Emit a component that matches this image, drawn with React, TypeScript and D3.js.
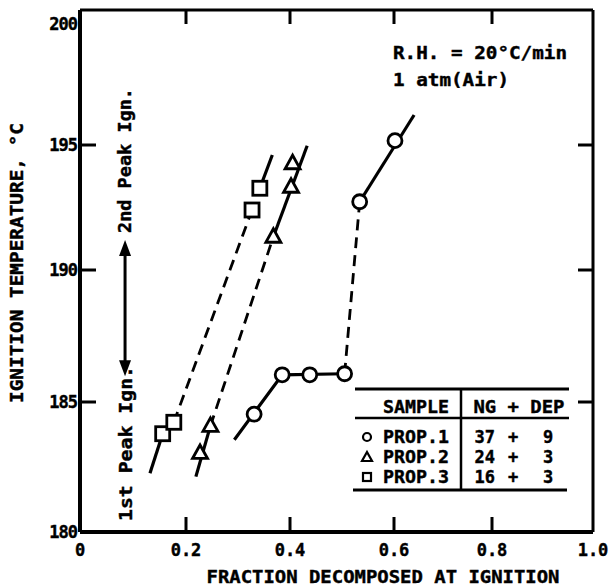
import * as d3 from 'd3';
import React from 'react';

// tick values
const xTicks = [0, 0.2, 0.4, 0.6, 0.8, 1.0];
const yTicks = [180, 185, 190, 195, 200];

// PROP.1 (circles)
const prop1Points: [number, number][] = [[0.331, 184.53], [0.385, 186.03], [0.438, 186.03], [0.505, 186.07], [0.534, 192.73], [0.602, 195.18]];
const prop1Low: [number, number][] = [[0.293, 183.55], [0.385, 186.03], [0.505, 186.07]];
const prop1High: [number, number][] = [[0.534, 192.73], [0.641, 196.24]];
const prop1Jump: [number, number][] = [[0.505, 186.07], [0.534, 192.73]];

// PROP.2 (triangles)
const prop2Points: [number, number][] = [[0.227, 183.04], [0.247, 184.08], [0.368, 191.33], [0.402, 193.33], [0.405, 194.27]];
const prop2Low: [number, number][] = [[0.219, 182.13], [0.247, 184.08]];
const prop2High: [number, number][] = [[0.368, 191.33], [0.433, 194.97]];
const prop2Jump: [number, number][] = [[0.247, 184.08], [0.368, 191.33]];

// PROP.3 (squares)
const prop3Points: [number, number][] = [[0.156, 183.78], [0.177, 184.22], [0.327, 192.4], [0.342, 193.27]];
const prop3Low: [number, number][] = [[0.132, 182.26], [0.156, 183.78]];
const prop3High: [number, number][] = [[0.342, 193.27], [0.366, 194.6]];
const prop3Jump: [number, number][] = [[0.177, 184.22], [0.327, 192.4]];

// legend table
const samples = ['PROP.1', 'PROP.2', 'PROP.3'];
const ngValues = [37, 24, 16];
const depValues = [9, 3, 3];

const FONT = '"DejaVu Sans Mono", "Liberation Mono", monospace';

export default function App() {
  const width = 611;
  const height = 588;

  // scanned axis is slightly uneven, so map each tick
  const x = d3.scaleLinear().domain(xTicks).range([80, 186, 290, 394, 492, 593]);
  const y = d3.scaleLinear().domain(yTicks).range([532, 402, 270, 145, 24]);
  const top = 10;

  const line = d3.line<[number, number]>().x(d => x(d[0])).y(d => y(d[1]));

  const circle = (p: [number, number], i: number) => (
    <circle key={'c' + i} cx={x(p[0])} cy={y(p[1])} r={7} fill="white" stroke="black" strokeWidth={2.8} />
  );
  const tri = (p: [number, number], i: number) => {
    const cx = x(p[0]), cy = y(p[1]);
    return (
      <path key={'t' + i} d={`M${cx},${cy - 8} L${cx + 7.5},${cy + 5.5} L${cx - 7.5},${cy + 5.5} Z`}
        fill="white" stroke="black" strokeWidth={2.8} strokeLinejoin="miter" />
    );
  };
  const sq = (p: [number, number], i: number) => (
    <rect key={'s' + i} x={x(p[0]) - 7} y={y(p[1]) - 7} width={14} height={14} fill="white" stroke="black" strokeWidth={2.8} />
  );

  const solid = { fill: 'none', stroke: 'black', strokeWidth: 3.2 };
  const dashed = { fill: 'none', stroke: 'black', strokeWidth: 2.8, strokeDasharray: '11 7' };
  const txt = { fontFamily: FONT, fontWeight: 'bold' as const, fontSize: 17, fill: 'black', stroke: 'black', strokeWidth: 0.4 };

  // table layout
  const tL = 355, tR = 569, tDiv = 461;
  const rowY = [437, 457, 477];

  const arrowX = x(0.085);
  const arrowTop = y(191.2);
  const arrowBot = y(185.98);

  return (
    <svg width={width} height={height} style={{ position: 'absolute', left: 0, top: 0, background: 'white' }}>
      {/* frame */}
      <line x1={x(0)} x2={x(0)} y1={top} y2={y(180)} stroke="black" strokeWidth={4} />
      <line x1={x(0)} x2={x(1)} y1={y(180)} y2={y(180)} stroke="black" strokeWidth={4} />
      <line x1={x(1)} x2={x(1)} y1={top} y2={y(180)} stroke="black" strokeWidth={3} />
      <line x1={x(0)} x2={x(1)} y1={top} y2={top} stroke="black" strokeWidth={3} />

      {/* ticks */}
      {xTicks.slice(1, -1).map(t => (
        <g key={'xt' + t}>
          <line x1={x(t)} x2={x(t)} y1={y(180)} y2={y(180) - 15} stroke="black" strokeWidth={3} />
          <line x1={x(t)} x2={x(t)} y1={top} y2={top + 14} stroke="black" strokeWidth={3} />
        </g>
      ))}
      {yTicks.slice(1, -1).map(t => (
        <g key={'yt' + t}>
          <line x1={x(0)} x2={x(0) + 16} y1={y(t)} y2={y(t)} stroke="black" strokeWidth={3} />
          <line x1={x(1)} x2={x(1) - 15} y1={y(t)} y2={y(t)} stroke="black" strokeWidth={3} />
        </g>
      ))}

      {/* tick labels */}
      {xTicks.map(t => (
        <text key={'xl' + t} x={x(t)} y={556} textAnchor="middle" {...txt}>
          {t === 0 ? '0' : d3.format('.1f')(t)}
        </text>
      ))}
      {yTicks.map(t => (
        <text key={'yl' + t} x={77} y={y(t) + 6} textAnchor="end" {...txt} letterSpacing={-1}>
          {t}
        </text>
      ))}

      {/* axis titles */}
      <text x={383} y={583} textAnchor="middle" {...txt} textLength={353} lengthAdjust="spacingAndGlyphs">
        FRACTION DECOMPOSED AT IGNITION
      </text>
      <text transform="translate(23,263) rotate(-90)" textAnchor="middle" {...txt} textLength={280} lengthAdjust="spacingAndGlyphs">
        IGNITION TEMPERATURE, °C
      </text>

      {/* conditions */}
      <text x={393} y={59} {...txt} textLength={174} lengthAdjust="spacingAndGlyphs">R.H. = 20°C/min</text>
      <text x={393} y={86} {...txt} textLength={116} lengthAdjust="spacingAndGlyphs">1 atm(Air)</text>

      {/* peak arrows and labels */}
      <line x1={arrowX} x2={arrowX} y1={arrowTop + 12} y2={arrowBot - 12} stroke="black" strokeWidth={3} />
      <path d={`M${arrowX},${arrowTop} L${arrowX + 6},${arrowTop + 16} L${arrowX - 6},${arrowTop + 16} Z`} fill="black" />
      <path d={`M${arrowX},${arrowBot} L${arrowX + 6},${arrowBot - 16} L${arrowX - 6},${arrowBot - 16} Z`} fill="black" />
      <text transform={`translate(${arrowX + 6},233) rotate(-90)`} {...txt} textLength={145} lengthAdjust="spacingAndGlyphs">
        2nd Peak Ign.
      </text>
      <text transform={`translate(${arrowX + 7},521) rotate(-90)`} {...txt} textLength={155} lengthAdjust="spacingAndGlyphs">
        1st Peak Ign.
      </text>

      {/* fitted lines */}
      <path d={line(prop1Low)!} {...solid} />
      <path d={line(prop1High)!} {...solid} />
      <path d={line(prop1Jump)!} {...dashed} />
      <path d={line(prop2Low)!} {...solid} />
      <path d={line(prop2High)!} {...solid} />
      <path d={line(prop2Jump)!} {...dashed} />
      <path d={line(prop3Low)!} {...solid} />
      <path d={line(prop3High)!} {...solid} />
      <path d={line(prop3Jump)!} {...dashed} />

      {/* markers */}
      {prop1Points.map(circle)}
      {prop2Points.map(tri)}
      {prop3Points.map(sq)}

      {/* sample table */}
      <line x1={tL} x2={tR} y1={389} y2={389} stroke="black" strokeWidth={3} />
      <line x1={tL} x2={tR} y1={418} y2={418} stroke="black" strokeWidth={2.5} />
      <line x1={tL - 2} x2={tR - 2} y1={490} y2={490} stroke="black" strokeWidth={3} />
      <line x1={tDiv} x2={tDiv} y1={389} y2={490} stroke="black" strokeWidth={2.5} />
      <text x={416} y={413} textAnchor="middle" {...txt} textLength={66} lengthAdjust="spacingAndGlyphs">SAMPLE</text>
      <text x={519} y={413} textAnchor="middle" {...txt} textLength={91} lengthAdjust="spacingAndGlyphs">NG + DEP</text>
      {samples.map((s, i) => (
        <g key={s}>
          {i === 0 && <circle cx={367} cy={rowY[i]} r={4} fill="white" stroke="black" strokeWidth={2.2} />}
          {i === 1 && <path d={`M367,${rowY[i] - 5} L372,${rowY[i] + 4} L362,${rowY[i] + 4} Z`} fill="white" stroke="black" strokeWidth={2.2} />}
          {i === 2 && <rect x={363} y={rowY[i] - 4} width={8} height={8} fill="white" stroke="black" strokeWidth={2.2} />}
          <text x={383} y={rowY[i] + 6} {...txt} textLength={66} lengthAdjust="spacingAndGlyphs">{s}</text>
          <text x={495} y={rowY[i] + 6} textAnchor="end" {...txt}>{ngValues[i]}</text>
          <text x={513} y={rowY[i] + 6} textAnchor="middle" {...txt}>+</text>
          <text x={548} y={rowY[i] + 6} textAnchor="middle" {...txt}>{depValues[i]}</text>
        </g>
      ))}
    </svg>
  );
}
